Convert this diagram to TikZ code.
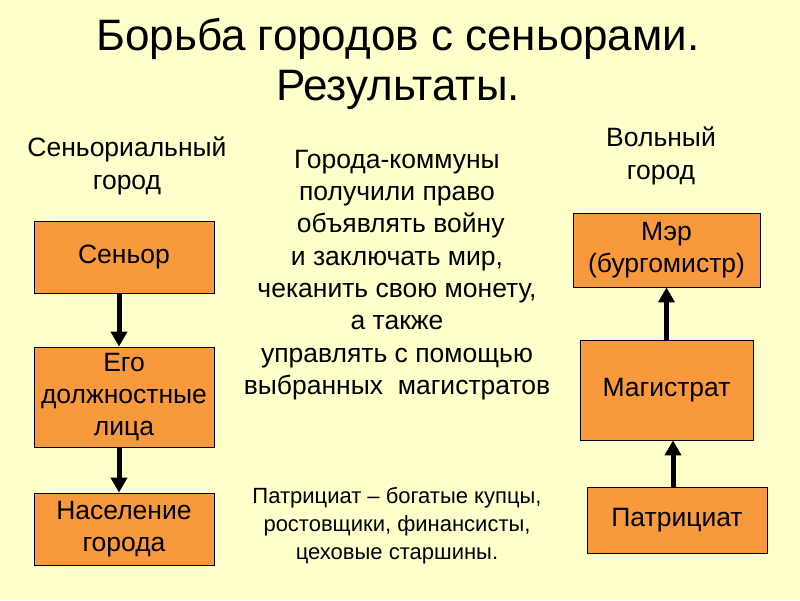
\documentclass[tikz,border=0pt]{standalone}
\usepackage{fontspec}
\setmainfont{Liberation Sans}
\usetikzlibrary{arrows.meta}
\definecolor{bgyellow}{HTML}{FFFFCC}
\definecolor{boxorange}{HTML}{F8993D}

\begin{document}
\begin{tikzpicture}[x=1pt,y=-1pt,
  box/.style={draw=black,line width=0.8pt,fill=boxorange,inner sep=0pt,align=center,font=\fontsize{26.5}{32}\selectfont},
  txt/.style={align=center,inner sep=0pt,font=\fontsize{26.5}{32.3}\selectfont},
  link/.style={line width=5pt,-{Triangle[width=16pt,length=15pt]}}]
  \fill[bgyellow] (0,0) rectangle (800,600);
  \useasboundingbox (0,0) rectangle (800,600);
  % title and headings
  \node[txt,font=\fontsize{44}{50}\selectfont] (title) at (398,64) {Борьба городов с сеньорами.\\Результаты.};
  \node[txt,font=\fontsize{26.5}{33}\selectfont] (lefthead) at (127,166) {Сеньориальный\\город};
  \node[txt,font=\fontsize{26.5}{33}\selectfont] (righthead) at (661,156) {Вольный\\город};
  % seigneurial city
  \node[box,minimum width=180pt,minimum height=72pt] (senior) at (124,257) {Сеньор};
  \node[box,minimum width=180pt,minimum height=100pt] (officials) at (124,397) {Его\\должностные\\лица};
  \node[box,minimum width=180pt,minimum height=72pt] (people) at (124,529) {Население\\города};
  \draw[link] ([xshift=-5pt]senior.south) -- ([xshift=-5pt]officials.north);
  \draw[link] ([xshift=-5pt]officials.south) -- ([xshift=-5pt]people.north);
  % free city
  \node[box,minimum width=187pt,minimum height=74pt] (mayor) at (666.5,250) {Мэр\\(бургомистр)};
  \node[box,minimum width=173pt,minimum height=100pt] (magistrate) at (666.5,390) {Магистрат};
  \node[box,minimum width=180pt,minimum height=66pt] (patricians) at (677,520) {Патрициат};
  \draw[link] (magistrate.north) -- (mayor.south);
  \draw[link] ([xshift=-4pt]patricians.north) -- ([xshift=6.5pt]magistrate.south);
  % middle texts
  \node[txt] (rights) at (397,275) {Города-коммуны\\получили право\\\ объявлять войну\\и заключать мир,\\чеканить свою монету,\\а также\\управлять с помощью\\выбранных\ \ магистратов};
  \node[txt,font=\fontsize{22}{28}\selectfont] (note) at (397,526) {Патрициат – богатые купцы,\\ростовщики, финансисты,\\цеховые старшины.};
\end{tikzpicture}
\end{document}
